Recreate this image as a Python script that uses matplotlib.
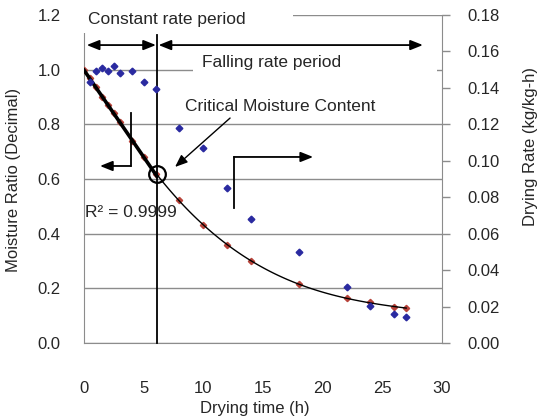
import numpy as np
import matplotlib
matplotlib.use("Agg")
import matplotlib.pyplot as plt
from matplotlib.patches import Rectangle

plt.rcParams['font.family'] = ['Liberation Sans', 'DejaVu Sans']

# Moisture ratio (left axis)
t_mr = [0, 0.5, 1, 1.5, 2, 2.5, 3, 4, 5, 6, 8, 10, 12, 14, 18, 22, 24, 26, 27]
mr = [1.0, 0.968, 0.935, 0.90, 0.87, 0.84, 0.81, 0.74, 0.68, 0.62,
      0.523, 0.432, 0.359, 0.30, 0.215, 0.163, 0.149, 0.133, 0.127]
# Drying rate (right axis)
t_dr = [0.5, 1, 1.5, 2, 2.5, 3, 4, 5, 6, 8, 10, 12, 14, 18, 22, 24, 26, 27]
dr = [0.1434, 0.149, 0.151, 0.149, 0.152, 0.148, 0.149, 0.1434, 0.1394,
      0.118, 0.107, 0.0852, 0.068, 0.0498, 0.0306, 0.0205, 0.0159, 0.0144]

x_ticks = [0, 5, 10, 15, 20, 25, 30]
y_ticks = [0.0, 0.2, 0.4, 0.6, 0.8, 1.0, 1.2]
y2_ticks = [0.00, 0.02, 0.04, 0.06, 0.08, 0.10, 0.12, 0.14, 0.16, 0.18]
t_crit = 6.1
mr_crit = 0.62

W, H = 540, 419
fig = plt.figure(figsize=(W / 100, H / 100), dpi=100)
ax = fig.add_axes([84 / W, 1 - 343 / H, (442 - 84) / W, (343 - 15) / H])
ax2 = ax.twinx()

grey = '#8c8c8c'
txt = '#262626'
fs = 12

ax.set_xlim(0, 30)
ax.set_ylim(0, 1.2)
ax2.set_ylim(0, 0.18)
ax.set_xticks(x_ticks)
ax.set_yticks(y_ticks)
ax2.set_yticks(y2_ticks)
ax.set_xticklabels([str(v) for v in x_ticks])
ax.set_yticklabels([f"{v:.1f}" for v in y_ticks])
ax2.set_yticklabels([f"{v:.2f}" for v in y2_ticks])

ax.tick_params(axis='x', length=0, pad=27, labelsize=fs, labelcolor=txt)
ax.tick_params(axis='y', length=0, pad=17, labelsize=fs, labelcolor=txt)
ax2.tick_params(axis='y', length=6, width=1, color=grey, direction='out', pad=12,
                labelsize=fs, labelcolor=txt)

for a in (ax, ax2):
    a.spines['top'].set_visible(False)
    for s in ('left', 'right', 'bottom'):
        a.spines[s].set_color(grey)
ax.spines['right'].set_visible(False)
ax2.spines['left'].set_visible(False)
ax2.spines['bottom'].set_visible(False)

ax.grid(axis='y', color=grey, lw=1)
ax.set_axisbelow(True)

# data
ax.plot(t_mr, mr, 'D', color='#b8433a', ms=3.2, zorder=4)
ax2.plot(t_dr, dr, 'D', color='#2a2aa0', ms=3.4, zorder=4)

# constant-rate linear fit
c_idx = [i for i, v in enumerate(t_mr) if v <= 6]
p1 = np.polyfit([t_mr[i] for i in c_idx], [mr[i] for i in c_idx], 1)
xl = np.linspace(0, t_crit, 20)
ax.plot(xl, np.polyval(p1, xl), color='black', lw=2.6, zorder=5)

# falling-rate trend curve
f_idx = [i for i, v in enumerate(t_mr) if v >= 6]
p3 = np.polyfit([t_mr[i] for i in f_idx], [mr[i] for i in f_idx], 3)
xc = np.linspace(t_crit, 27, 100)
ax.plot(xc, np.polyval(p3, xc), color='black', lw=1.0, zorder=5)

# critical vertical line
ax.plot([t_crit, t_crit], [0, 1.127], color='black', lw=1.3, zorder=5, clip_on=False)

# circle at critical moisture content
ax.plot([6.14], [mr_crit], 'o', ms=12, mfc='none', mec='black', mew=1.6, zorder=6)

# white boxes behind the period labels
ax.add_patch(Rectangle((-0.3, 1.134), 17.8, 0.12, facecolor='white', edgecolor='none',
                       zorder=3, clip_on=False, transform=ax.transData))
ax.add_patch(Rectangle((9.14, 0.977), 20.4, 0.088, facecolor='white', edgecolor='none',
                       zorder=3, clip_on=False, transform=ax.transData))

ax.text(0.34, 1.182, 'Constant rate period', fontsize=12.5, color=txt, va='center',
        ha='left', zorder=7, clip_on=False)
ax.text(9.9, 1.0245, 'Falling rate period', fontsize=12.5, color=txt, va='center',
        ha='left', zorder=7)
ax.text(8.47, 0.8635, 'Critical Moisture Content', fontsize=12.5, color=txt,
        va='center', ha='left', zorder=7, clip_on=False)
ax.text(0.08, 0.479, 'R² = 0.9999', fontsize=12.5, color=txt, va='center',
        ha='left', zorder=7)

arw = dict(arrowstyle='<|-|>,head_length=0.75,head_width=0.3', color='black', lw=1.3,
           shrinkA=0, shrinkB=0)
ax.annotate('', xy=(0.23, 1.09), xytext=(6.03, 1.09), arrowprops=arw,
            annotation_clip=False, zorder=7)
ax.annotate('', xy=(6.25, 1.09), xytext=(28.4, 1.09), arrowprops=arw,
            annotation_clip=False, zorder=7)

one = dict(arrowstyle='-|>,head_length=0.75,head_width=0.3', color='black', lw=1.3,
           shrinkA=0, shrinkB=0)
# critical arrow
ax.annotate('', xy=(7.63, 0.644), xytext=(12.24, 0.823),
            arrowprops=dict(one, lw=1.0), zorder=7)
# left elbow arrow
ax.plot([3.91, 3.91], [0.8416, 0.6476], color='black', lw=1.3, zorder=7)
ax.annotate('', xy=(1.34, 0.6476), xytext=(3.91, 0.6476), arrowprops=one, zorder=7)
# right elbow arrow
ax.plot([12.57, 12.57], [0.494, 0.6806], color='black', lw=1.3, zorder=7)
ax.annotate('', xy=(19.2, 0.6806), xytext=(12.57, 0.6806), arrowprops=one, zorder=7)

fig.text(14 / W, 1 - 180 / H, 'Moisture Ratio (Decimal)', rotation=90, ha='center',
         va='center', fontsize=fs, color=txt)
fig.text(530 / W, 1 - 146 / H, 'Drying Rate (kg/kg-h)', rotation=90, ha='center',
         va='center', fontsize=fs, color=txt)
fig.text(255 / W, 1 - 408 / H, 'Drying time (h)', ha='center', va='center',
         fontsize=fs, color=txt)

fig.savefig('out.png', dpi=100)
